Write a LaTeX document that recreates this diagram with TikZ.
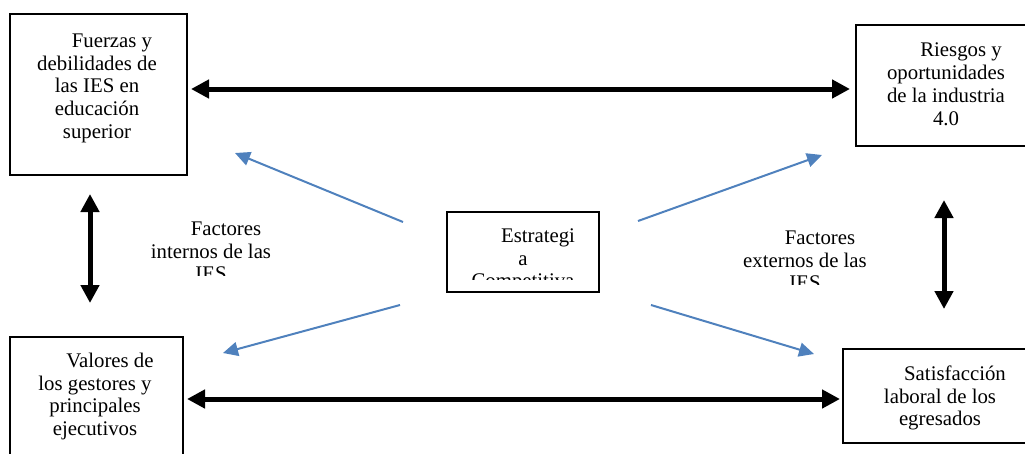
\documentclass[tikz,border=0pt]{standalone}
\usepackage{fontspec}
\setmainfont{Liberation Serif}
\usetikzlibrary{arrows.meta}
\definecolor{arrowblue}{HTML}{4F81BD}
\newcommand{\fstrut}{\rule{0pt}{15pt}}
\begin{document}
\begin{tikzpicture}[x=1pt,y=-1pt,
  box/.style={draw=black, line width=2pt, inner sep=0pt, outer sep=0pt},
  txt/.style={inner sep=0pt, align=center, anchor=north, font=\fontsize{20.8}{22.8}\selectfont},
  bigarrow/.style={line width=5pt, {Triangle[length=18pt,width=18pt]}-{Triangle[length=18pt,width=18pt]}},
  bluearrow/.style={draw=arrowblue, line width=2pt, -{Triangle[length=15pt,width=14pt]}}]
\useasboundingbox (0,0) rectangle (1025,453);
\clip (0,0) rectangle (1025,453);
% boxes
\node[box, minimum width=177pt, minimum height=161pt] (tl) at (98.5,94.5) {};
\node[box, minimum width=174pt, minimum height=121pt] (tr) at (943,85.5) {};
\node[box, minimum width=173pt, minimum height=123pt] (bl) at (96.5,398.5) {};
\node[box, minimum width=187pt, minimum height=94pt] (br) at (936.5,396) {};
\node[box, minimum width=152pt, minimum height=80pt] (c) at (523,252) {};
% texts
\node[txt] (tlt) at (97,32) {\fstrut\hspace*{30pt}Fuerzas y\\debilidades de\\las IES en\\educación\\superior};
\node[txt] (trt) at (946,41.5) {\fstrut\hspace*{30pt}Riesgos y\\oportunidades\\de la industria\\4.0};
\node[txt] (blt) at (95,352) {\fstrut\hspace*{30pt}Valores de\\los gestores y\\principales\\ejecutivos};
\node[txt] (brt) at (940,365) {\fstrut\hspace*{30pt}Satisfacción\\laboral de los\\egresados};
\begin{scope}
  \clip (447,212) rectangle (599,279);
  \node[txt] (ct) at (523,227) {\fstrut\hspace*{30pt}Estrategi\\a\\Competitiva};
\end{scope}
\begin{scope}
  \clip (100,200) rectangle (320,275);
  \node[txt] (fi) at (211,220) {\fstrut\hspace*{30pt}Factores\\internos de las\\IES};
\end{scope}
\begin{scope}
  \clip (700,200) rectangle (920,284);
  \node[txt] (fe) at (805,229) {\fstrut\hspace*{30pt}Factores\\externos de las\\IES};
\end{scope}
% black double arrows
\draw[bigarrow, shorten <=4pt, shorten >=6pt] ([yshift=5.5pt]tl.east) -- ([yshift=-3.5pt]tr.west);
\draw[bigarrow, shorten <=4pt, shorten >=3pt] ([yshift=-0.5pt]bl.east) -- ([yshift=-3pt]br.west);
\draw[bigarrow, shorten <=19pt, shorten >=34pt] ([xshift=-8.5pt]tl.south) -- ([xshift=-6.5pt]bl.north);
\draw[bigarrow, shorten <=54pt, shorten >=40pt] ([xshift=1pt]tr.south) -- ([xshift=7.5pt]br.north);
% blue arrows
\coordinate (b1s) at (403,222); \coordinate (b1e) at (235,153);
\coordinate (b2s) at (638,221); \coordinate (b2e) at (822,155);
\coordinate (b3s) at (400,305); \coordinate (b3e) at (223,353);
\coordinate (b4s) at (651,305); \coordinate (b4e) at (814,354);
\draw[bluearrow] (b1s) -- (b1e);
\draw[bluearrow] (b2s) -- (b2e);
\draw[bluearrow] (b3s) -- (b3e);
\draw[bluearrow] (b4s) -- (b4e);
\end{tikzpicture}
\end{document}
